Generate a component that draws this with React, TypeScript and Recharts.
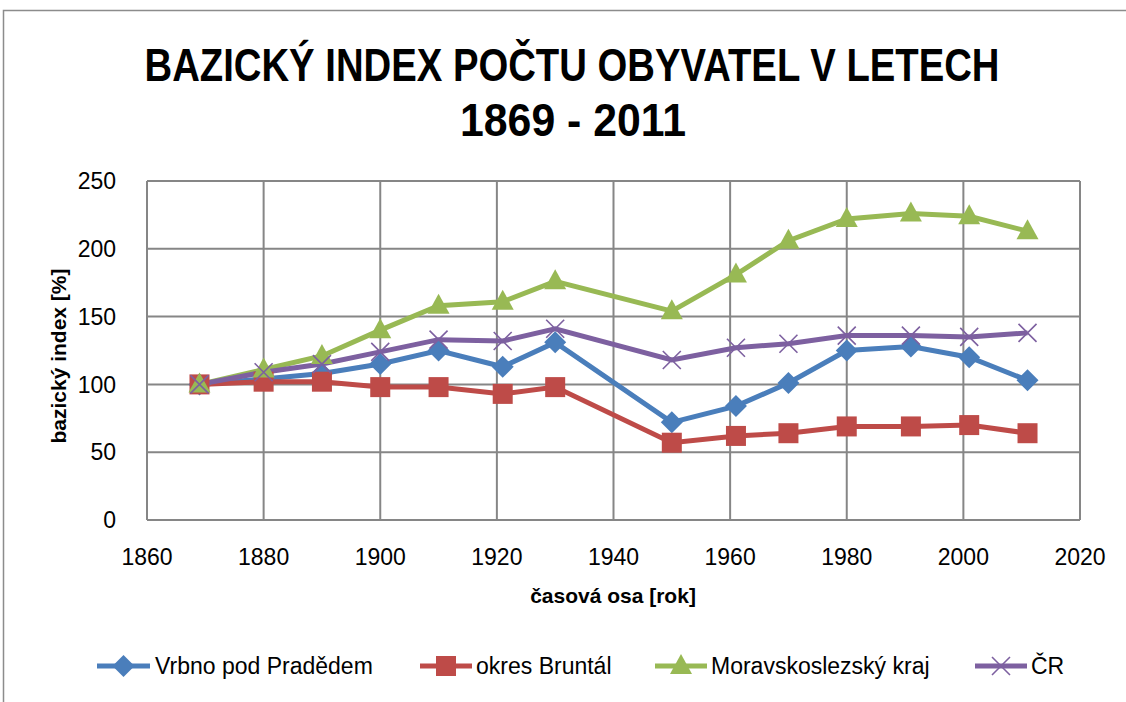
import { LineChart, Line, XAxis, YAxis, CartesianGrid } from 'recharts'

const YEARS = [1869, 1880, 1890, 1900, 1910, 1921, 1930, 1950, 1961, 1970, 1980, 1991, 2001, 2011]
const VRBNO = [100, 104, 108, 115, 125, 113, 131, 72, 84, 101, 125, 128, 120, 103]
const BRUNTAL = [100, 102, 102, 98, 98, 93, 98, 57, 62, 64, 69, 69, 70, 64]
const MSK = [100, 111, 121, 140, 158, 161, 176, 154, 181, 206, 222, 226, 224, 213]
const CR = [100, 109, 115, 124, 133, 132, 141, 118, 127, 130, 136, 136, 135, 138]

const X_TICKS = [1860, 1880, 1900, 1920, 1940, 1960, 1980, 2000, 2020]
const Y_TICKS = [0, 50, 100, 150, 200, 250]

const TITLE_1 = 'BAZICKÝ INDEX POČTU OBYVATEL V LETECH'
const TITLE_2 = '1869 - 2011'
const X_TITLE = 'časová osa [rok]'
const Y_TITLE = 'bazický index [%]'

const FONT = '"Liberation Sans", Arial, sans-serif'
const GRID = '#868686'

type Shape = 'diamond' | 'square' | 'triangle' | 'cross'

const SERIES: { key: string; name: string; color: string; shape: Shape; values: number[] }[] = [
  { key: 'vrbno', name: 'Vrbno pod Pradědem', color: '#4A7EBB', shape: 'diamond', values: VRBNO },
  { key: 'bruntal', name: 'okres Bruntál', color: '#BE4B48', shape: 'square', values: BRUNTAL },
  { key: 'msk', name: 'Moravskoslezský kraj', color: '#98B954', shape: 'triangle', values: MSK },
  { key: 'cr', name: 'ČR', color: '#7D60A0', shape: 'cross', values: CR },
]

const data = YEARS.map((year, i) => {
  const row: Record<string, number> = { year }
  for (const s of SERIES) row[s.key] = s.values[i]
  return row
})

function Marker({ cx, cy, shape, color }: { cx: number; cy: number; shape: Shape; color: string }) {
  if (cx == null || cy == null) return null
  if (shape === 'diamond') {
    const r = 11
    return <path d={`M${cx},${cy - r}L${cx + r},${cy}L${cx},${cy + r}L${cx - r},${cy}Z`} fill={color} />
  }
  if (shape === 'square') {
    return <rect x={cx - 10} y={cy - 10} width={20} height={20} fill={color} />
  }
  if (shape === 'triangle') {
    return <path d={`M${cx},${cy - 12}L${cx + 11},${cy + 8}L${cx - 11},${cy + 8}Z`} fill={color} />
  }
  const r = 9
  return (
    <path
      d={`M${cx - r},${cy - r}L${cx + r},${cy + r}M${cx - r},${cy + r}L${cx + r},${cy - r}`}
      stroke={color}
      strokeWidth={1.6}
      fill="none"
    />
  )
}

const LEGEND_POS = [
  { line: [97, 150], text: 155 },
  { line: [420, 472], text: 476 },
  { line: [655, 707], text: 711 },
  { line: [975, 1027], text: 1031 },
]

export default function App() {
  return (
    <div style={{ position: 'absolute', left: 0, top: 0, width: 1126, height: 702, background: '#fff' }}>
      <LineChart
        width={1126}
        height={702}
        data={data}
        margin={{ top: 181, right: 46, bottom: 152, left: 87 }}
      >
        <CartesianGrid stroke={GRID} strokeWidth={2} horizontal vertical />
        <XAxis
          dataKey="year"
          type="number"
          domain={[1860, 2020]}
          ticks={X_TICKS}
          height={30}
          tickLine={false}
          axisLine={{ stroke: GRID, strokeWidth: 2 }}
          tickMargin={23}
          tick={{ fill: '#000', fontSize: 23, fontFamily: FONT }}
          interval={0}
        />
        <YAxis
          type="number"
          domain={[0, 250]}
          ticks={Y_TICKS}
          width={60}
          tickLine={false}
          axisLine={{ stroke: GRID, strokeWidth: 2 }}
          tickMargin={25}
          tick={{ fill: '#000', fontSize: 23, fontFamily: FONT }}
          interval={0}
        />
        {SERIES.map((s) => (
          <Line
            key={s.key}
            dataKey={s.key}
            name={s.name}
            stroke={s.color}
            strokeWidth={5}
            isAnimationActive={false}
            dot={(p: any) => <Marker key={`${s.key}-${p.index}`} cx={p.cx} cy={p.cy} shape={s.shape} color={s.color} />}
            activeDot={false}
          />
        ))}
      </LineChart>

      <svg
        width={1126}
        height={702}
        style={{ position: 'absolute', left: 0, top: 0, pointerEvents: 'none' }}
      >
        <path d="M3.5,702V10.5H1126" stroke="#8c8c8c" strokeWidth={1.5} fill="none" />
        {/* Calibri-like narrow bold title: smaller font stretched vertically, squeezed to width */}
        <text
          x={0}
          y={0}
          transform="translate(572,81) scale(1,1.16)"
          textAnchor="middle"
          fontFamily={FONT}
          fontWeight="bold"
          fontSize={40}
          textLength={855}
          lengthAdjust="spacingAndGlyphs"
        >
          {TITLE_1}
        </text>
        <text
          x={0}
          y={0}
          transform="translate(573,136) scale(1,1.16)"
          textAnchor="middle"
          fontFamily={FONT}
          fontWeight="bold"
          fontSize={40}
          textLength={226}
          lengthAdjust="spacingAndGlyphs"
        >
          {TITLE_2}
        </text>
        <text x={613} y={603} textAnchor="middle" fontFamily={FONT} fontWeight="bold" fontSize={21}>
          {X_TITLE}
        </text>
        <text
          x={0}
          y={0}
          transform="translate(66,356) rotate(-90)"
          textAnchor="middle"
          fontFamily={FONT}
          fontWeight="bold"
          fontSize={21}
        >
          {Y_TITLE}
        </text>
        {SERIES.map((s, i) => {
          const pos = LEGEND_POS[i]
          const mid = (pos.line[0] + pos.line[1]) / 2
          return (
            <g key={s.key}>
              <line x1={pos.line[0]} x2={pos.line[1]} y1={666} y2={666} stroke={s.color} strokeWidth={5} />
              <Marker cx={mid} cy={666} shape={s.shape} color={s.color} />
              <text x={pos.text} y={674} fontFamily={FONT} fontSize={23}>
                {s.name}
              </text>
            </g>
          )
        })}
      </svg>
    </div>
  )
}
